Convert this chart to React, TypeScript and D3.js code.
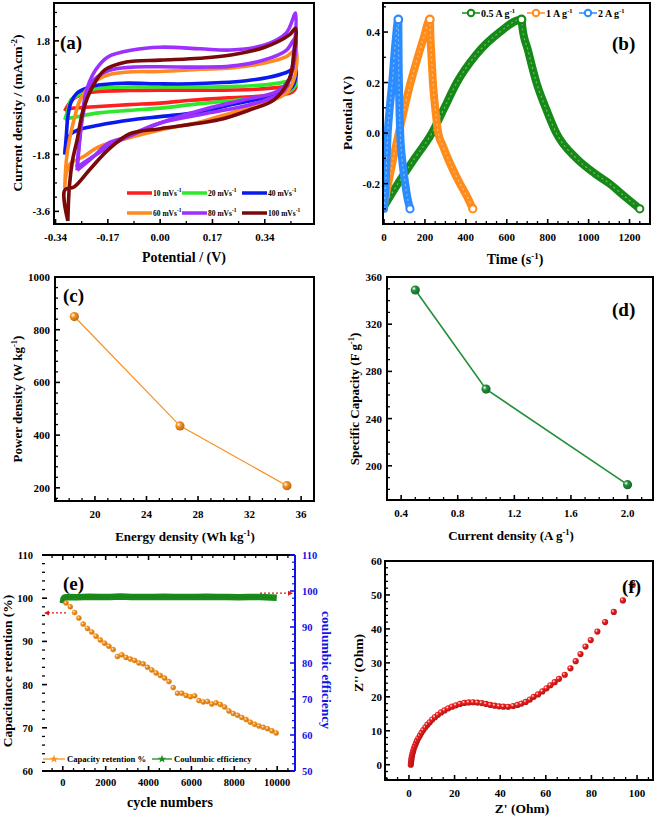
import React from 'react';
import * as d3 from 'd3';

const FONT = "'Liberation Serif','Times New Roman',Times,serif";

// ---------------- (a) Cyclic voltammetry ----------------
const cvRates = ['10', '20', '40', '60', '80', '100'];
const cvColors = ['#ff1f1f', '#2ee82e', '#0a1aee', '#ff8a1f', '#9b30ff', '#7a0a0a'];
const cv10E = [-0.31, -0.30, -0.28, -0.24, -0.2, -0.1, 0, 0.1, 0.2, 0.3, 0.38, 0.42, 0.44, 0.44, 0.43, 0.4, 0.33, 0.23, 0.1, 0, -0.1, -0.2, -0.27, -0.30, -0.31];
const cv10I = [-0.42, -0.25, -0.02, 0.14, 0.2, 0.23, 0.24, 0.24, 0.24, 0.26, 0.32, 0.37, 0.4, 0.3, 0.18, 0.1, 0.05, 0.0, -0.08, -0.17, -0.22, -0.28, -0.32, -0.36, -0.42];
const cv20E = [-0.31, -0.30, -0.29, -0.26, -0.22, -0.15, -0.05, 0.05, 0.15, 0.25, 0.33, 0.39, 0.43, 0.44, 0.44, 0.42, 0.39, 0.3, 0.2, 0.1, 0, -0.1, -0.2, -0.27, -0.30, -0.31];
const cv20I = [-0.7, -0.4, -0.07, 0.12, 0.27, 0.33, 0.34, 0.34, 0.34, 0.36, 0.4, 0.47, 0.58, 0.64, 0.4, 0.2, 0.1, -0.03, -0.12, -0.22, -0.33, -0.4, -0.48, -0.6, -0.66, -0.7];
const cv40E = [-0.31, -0.305, -0.30, -0.29, -0.27, -0.24, -0.2, -0.12, 0, 0.1, 0.2, 0.28, 0.35, 0.41, 0.44, 0.44, 0.43, 0.41, 0.34, 0.23, 0.13, 0, -0.09, -0.2, -0.26, -0.29, -0.305, -0.31];
const cv40I = [-1.8, -1.2, -0.6, -0.15, 0.15, 0.3, 0.4, 0.46, 0.44, 0.44, 0.48, 0.54, 0.64, 0.8, 0.94, 0.6, 0.35, 0.2, 0.0, -0.22, -0.45, -0.6, -0.7, -0.87, -1.0, -1.15, -1.4, -1.8];
const cv60E = [-0.31, -0.305, -0.295, -0.28, -0.26, -0.22, -0.17, -0.09, 0, 0.13, 0.23, 0.34, 0.41, 0.44, 0.437, 0.41, 0.34, 0.23, 0.13, 0, -0.09, -0.2, -0.25, -0.29, -0.305, -0.31];
const cv60I = [-2.86, -2.0, -1.34, -0.7, -0.07, 0.46, 0.72, 0.82, 0.83, 0.9, 0.94, 1.1, 1.3, 1.5, 0.66, 0.15, -0.17, -0.48, -0.77, -1.02, -1.24, -1.56, -1.87, -2.07, -2.4, -2.86];
const cv80bE = [-0.27, -0.25, -0.22, -0.17, -0.09, 0, 0.13, 0.23, 0.34, 0.41, 0.44, 0.43, 0.4, 0.3, 0.15, 0, -0.1, -0.2, -0.27];
const cv80bI = [-2.2, -0.5, 0.5, 0.85, 0.97, 0.98, 0.97, 1.0, 1.2, 1.5, 1.9, 0.9, 0.2, -0.2, -0.5, -0.8, -1.2, -1.75, -2.2];
const cv80E = [-0.27, -0.26, -0.245, -0.23, -0.21, -0.17, -0.09, 0, 0.13, 0.23, 0.34, 0.41, 0.44, 0.435, 0.42, 0.38, 0.27, 0.15, 0, -0.11, -0.17, -0.22, -0.27];
const cv80I = [-2.3, -1.2, 0.0, 0.5, 0.88, 1.29, 1.51, 1.6, 1.55, 1.51, 1.67, 2.05, 2.68, 1.5, 0.6, 0.2, -0.07, -0.35, -0.8, -1.25, -1.45, -1.9, -2.3];
const cv100E = [-0.30, -0.295, -0.285, -0.27, -0.25, -0.22, -0.18, -0.11, 0, 0.13, 0.23, 0.34, 0.42, 0.44, 0.435, 0.42, 0.37, 0.29, 0.19, 0, -0.1, -0.17, -0.23, -0.28, -0.31, -0.30];
const cv100I = [-3.9, -2.8, -2.0, -1.34, -0.39, 0.34, 0.88, 1.13, 1.19, 1.25, 1.35, 1.6, 1.99, 2.2, 1.4, 0.6, -0.07, -0.39, -0.7, -0.98, -1.15, -1.66, -2.29, -2.83, -2.92, -3.9];
const cvXTicks = [-0.34, -0.17, 0, 0.17, 0.34];
const cvXLabels = ['-0.34', '-0.17', '0.00', '0.17', '0.34'];
const cvYTicks = [-3.6, -1.8, 0, 1.8];
const cvYLabels = ['-3.6', '-1.8', '0.0', '1.8'];

// ---------------- (b) GCD ----------------
const gcdLabels = ['0.5 A g', '1 A g', '2 A g'];
const gcdColors = ['#168a16', '#ff8c1a', '#2b8cff'];
const gcd05T = [0, 68, 150, 234, 295, 356, 450, 566, 672, 676, 703, 745, 790, 842, 940, 1030, 1102, 1175, 1250];
const gcd05V = [-0.29, -0.2, -0.1, 0.0, 0.1, 0.2, 0.31, 0.4, 0.45, 0.42, 0.33, 0.2, 0.1, 0.0, -0.1, -0.16, -0.2, -0.25, -0.3];
const gcd1T = [0, 20, 45, 72, 100, 130, 165, 195, 224, 227, 232, 239, 250, 265, 287, 312, 340, 371, 405, 434];
const gcd1V = [-0.28, -0.2, -0.1, 0.0, 0.1, 0.2, 0.3, 0.38, 0.45, 0.38, 0.3, 0.2, 0.1, 0.0, -0.05, -0.1, -0.15, -0.2, -0.25, -0.3];
const gcd2T = [0, 8, 18, 28, 40, 55, 70, 71, 74, 79, 88, 100, 113, 127];
const gcd2V = [-0.3, -0.2, 0.0, 0.1, 0.2, 0.35, 0.45, 0.32, 0.15, 0.0, -0.1, -0.18, -0.25, -0.3];
const gcdXTicks = [0, 200, 400, 600, 800, 1000, 1200];
const gcdYTicks = [-0.2, 0, 0.2, 0.4];
const gcdYLabels = ['-0.2', '0.0', '0.2', '0.4'];

// ---------------- (c) Ragone ----------------
const energyDensity = [18.4, 26.6, 34.9];
const powerDensity = [850, 435, 208];
const ragXTicks = [20, 24, 28, 32, 36];
const ragYTicks = [200, 400, 600, 800, 1000];

// ---------------- (d) Specific capacity ----------------
const currentDensity = [0.5, 1.0, 2.0];
const specCapacity = [349, 265, 184];
const capXTicks = [0.4, 0.8, 1.2, 1.6, 2.0];
const capXLabels = ['0.4', '0.8', '1.2', '1.6', '2.0'];
const capYTicks = [200, 240, 280, 320, 360];

// ---------------- (e) Cycling ----------------
const retCycles = [150, 350, 550, 750, 950, 1150, 1350, 1550, 1750, 1950, 2150, 2350, 2550, 2750, 2950, 3150, 3350, 3550, 3750, 3950, 4150, 4350, 4550, 4750, 4950, 5150, 5350, 5550, 5750, 5950, 6150, 6350, 6550, 6750, 6950, 7150, 7350, 7550, 7750, 7950, 8150, 8350, 8550, 8750, 8950, 9150, 9350, 9550, 9750, 9950];
const retValues = [98.9, 98.0, 96.7, 95.4, 94.0, 93.0, 92.2, 91.2, 90.3, 89.6, 88.9, 88.1, 86.5, 86.9, 86.3, 85.9, 85.6, 85.0, 84.8, 84.0, 83.4, 82.7, 82.1, 81.5, 80.7, 79.3, 78.0, 78.0, 77.5, 77.2, 77.4, 76.3, 76.0, 76.1, 75.5, 75.8, 75.4, 74.8, 73.9, 73.3, 72.9, 72.4, 71.9, 71.3, 70.8, 70.4, 70.1, 69.8, 69.3, 68.8];
const ceCycles = [0, 30, 80, 300, 700, 1200, 1700, 2200, 2700, 3200, 3700, 4200, 4700, 5200, 5700, 6200, 6700, 7200, 7700, 8200, 8700, 9200, 9700, 9980];
const ceValues = [96.6, 97.8, 98.2, 98.35, 98.25, 98.4, 98.3, 98.35, 98.45, 98.3, 98.35, 98.3, 98.4, 98.3, 98.35, 98.3, 98.4, 98.3, 98.35, 98.25, 98.3, 98.3, 98.2, 98.1];
const cycXTicks = [0, 2000, 4000, 6000, 8000, 10000];
const cycYLTicks = [60, 70, 80, 90, 100, 110];
const cycYRTicks = [50, 60, 70, 80, 90, 100, 110];
const cycLegend = ['Capacity retention %', 'Coulumbic efficiency'];

// ---------------- (f) Nyquist ----------------
const zReal = [0.8, 0.9, 1.0, 1.1, 1.3, 1.5, 1.8, 2.1, 2.5, 3.0, 3.5, 4.1, 4.8, 5.5, 6.3, 7.2, 8.1, 9.1, 10.2, 11.4, 12.7, 14.1, 15.6, 17.2, 18.9, 20.6, 22.4, 24.3, 26.2, 28.1, 30.0, 31.9, 33.8, 35.7, 37.6, 39.5, 41.4, 43.5, 45.7, 47.6, 49.3, 51.2, 53.0, 54.7, 56.6, 58.5, 60.3, 62.0, 63.9, 65.8, 68.3, 70.8, 73.1, 75.2, 77.4, 79.7, 82.6, 86.0, 89.8, 93.8, 98.1];
const zImag = [0.0, 0.6, 1.2, 1.8, 2.5, 3.2, 3.9, 4.6, 5.4, 6.2, 7.0, 7.8, 8.6, 9.4, 10.2, 11.0, 11.8, 12.5, 13.3, 14.0, 14.7, 15.4, 16.0, 16.6, 17.1, 17.5, 17.9, 18.2, 18.35, 18.4, 18.3, 18.15, 17.9, 17.6, 17.4, 17.2, 17.1, 17.05, 17.3, 17.6, 18.0, 18.5, 19.2, 20.0, 20.7, 21.6, 22.5, 23.4, 24.3, 25.3, 26.5, 28.4, 30.5, 32.6, 34.8, 36.7, 39.2, 42.0, 45.0, 48.4, 52.9];
const nyqXTicks = [0, 20, 40, 60, 80, 100];
const nyqYTicks = [0, 10, 20, 30, 40, 50, 60];

type Lin = d3.ScaleLinear<number, number>;

function minors(scale: Lin, step: number, majors: number[]) {
  const [a, b] = scale.domain();
  const lo = Math.ceil(a / step - 1e-9), hi = Math.floor(b / step + 1e-9);
  const out: number[] = [];
  for (let k = lo; k <= hi; k++) {
    const v = k * step;
    if (!majors.some(m => Math.abs(m - v) < step * 1e-3)) out.push(v);
  }
  return out;
}

interface AxProps {
  x: Lin; y: Lin;
  xt: number[]; xl: string[]; xm: number; xlY: number;
  yt: number[]; yl: string[]; ym: number; ylX: number;
  top?: boolean; noRightFrame?: boolean; fs?: number;
}

function Axes(p: AxProps) {
  const [x0, x1] = p.x.range();
  const [yb, yt] = p.y.range();
  const fs = p.fs ?? 11;
  return (
    <g>
      {p.xt.map((v, i) => (
        <g key={'xt' + i}>
          <line x1={p.x(v)} x2={p.x(v)} y1={yb} y2={yb - 5} stroke="#000" strokeWidth={1.6} />
          {p.top && <line x1={p.x(v)} x2={p.x(v)} y1={yt} y2={yt + 5} stroke="#000" strokeWidth={1.6} />}
          <text x={p.x(v)} y={p.xlY} textAnchor="middle" fontFamily={FONT} fontWeight="bold" fontSize={fs}>{p.xl[i]}</text>
        </g>
      ))}
      {minors(p.x, p.xm, p.xt).map((v, i) => (
        <g key={'xm' + i}>
          <line x1={p.x(v)} x2={p.x(v)} y1={yb} y2={yb - 3} stroke="#000" strokeWidth={1.3} />
          {p.top && <line x1={p.x(v)} x2={p.x(v)} y1={yt} y2={yt + 3} stroke="#000" strokeWidth={1.3} />}
        </g>
      ))}
      {p.yt.map((v, i) => (
        <g key={'yt' + i}>
          <line x1={x0} x2={x0 + 5} y1={p.y(v)} y2={p.y(v)} stroke="#000" strokeWidth={1.6} />
          <text x={p.ylX} y={p.y(v) + 4} textAnchor="end" fontFamily={FONT} fontWeight="bold" fontSize={fs}>{p.yl[i]}</text>
        </g>
      ))}
      {minors(p.y, p.ym, p.yt).map((v, i) => (
        <line key={'ym' + i} x1={x0} x2={x0 + 3} y1={p.y(v)} y2={p.y(v)} stroke="#000" strokeWidth={1.3} />
      ))}
      <path d={`M${x0},${yt}H${x1}${p.noRightFrame ? 'M' + x1 + ',' + yb : 'V' + yb}H${x0}Z`} fill="none" stroke="#000" strokeWidth={2} />
    </g>
  );
}

function Grad({ id, color }: { id: string; color: string }) {
  const dark = d3.color(color)!.darker(0.9).formatHex();
  return (
    <radialGradient id={id} cx="0.35" cy="0.35" r="0.7">
      <stop offset="0" stopColor="#ffffff" />
      <stop offset="0.35" stopColor={color} />
      <stop offset="1" stopColor={dark} />
    </radialGradient>
  );
}

const bold = { fontFamily: FONT, fontWeight: 'bold' as const };

export default function App() {
  // ---- scales
  const ax = d3.scaleLinear().domain([-0.345, 0.5]).range([54, 314]);
  const ay = d3.scaleLinear().domain([-4, 3]).range([224, 3]);
  const bx = d3.scaleLinear().domain([-5, 1300]).range([383, 650]);
  const by = d3.scaleLinear().domain([-0.36, 0.515]).range([224, 3]);
  const cx = d3.scaleLinear().domain([16.9, 37]).range([55, 314]);
  const cy = d3.scaleLinear().domain([150, 1000]).range([501, 277]);
  const dx = d3.scaleLinear().domain([0.3, 2.18]).range([387, 653]);
  const dy = d3.scaleLinear().domain([171, 360]).range([500, 277]);
  const ex = d3.scaleLinear().domain([-970, 10830]).range([42, 295]);
  const eyL = d3.scaleLinear().domain([60, 110]).range([771, 555]);
  const eyR = d3.scaleLinear().domain([50, 110]).range([771, 555]);
  const fx = d3.scaleLinear().domain([-10.5, 107]).range([385, 653]);
  const fy = d3.scaleLinear().domain([-4.5, 60]).range([780, 561]);

  const zip = (a: number[], b: number[]) => a.map((v, i) => [v, b[i]] as [number, number]);

  // (a)
  const cvLine = d3.line<[number, number]>().x(d => ax(d[0])).y(d => ay(d[1])).curve(d3.curveCatmullRom.alpha(0.5));
  const cvLoops: { pts: [number, number][]; color: string }[] = [
    { pts: zip(cv10E, cv10I), color: cvColors[0] },
    { pts: zip(cv20E, cv20I), color: cvColors[1] },
    { pts: zip(cv40E, cv40I), color: cvColors[2] },
    { pts: zip(cv60E, cv60I), color: cvColors[3] },
    { pts: zip(cv80bE, cv80bI), color: cvColors[4] },
    { pts: zip(cv80E, cv80I), color: cvColors[4] },
    { pts: zip(cv100E, cv100I), color: cvColors[5] },
  ];

  // (b)
  const gcdLine = d3.line<[number, number]>().x(d => bx(d[0])).y(d => by(d[1])).curve(d3.curveMonotoneX);
  const gcdSeries = [zip(gcd05T, gcd05V), zip(gcd1T, gcd1V), zip(gcd2T, gcd2V)];

  // (c), (d)
  const ragPts = zip(energyDensity, powerDensity);
  const capPts = zip(currentDensity, specCapacity);
  const ragLine = d3.line<[number, number]>().x(d => cx(d[0])).y(d => cy(d[1]));
  const capLine = d3.line<[number, number]>().x(d => dx(d[0])).y(d => dy(d[1]));

  // (e)
  const retPts = zip(retCycles, retValues);
  const cePts = zip(ceCycles, ceValues);
  const ceLine = d3.line<[number, number]>().x(d => ex(d[0])).y(d => eyR(d[1]));
  const starPath = d3.symbol().type(d3.symbolStar).size(22)()!;

  // (f)
  const nyqPts = zip(zReal, zImag);

  const cvLegendPos = [
    [127, 193], [182, 193], [242, 193],
    [127, 213], [182, 213], [242, 213],
  ];
  const gcdLegendX = [462, 527, 579];

  return (
    <svg width={660} height={823} style={{ position: 'absolute', left: 0, top: 0, background: '#fff' }}>
      <defs>
        <Grad id="gOrange" color="#f7901e" />
        <Grad id="gGreen" color="#1f8f3a" />
        <Grad id="gRed" color="#ee1c1c" />
        <Grad id="gOr2" color="#f7941d" />
        <clipPath id="clipA"><rect x={54} y={3} width={260} height={221} /></clipPath>
        <clipPath id="clipB"><rect x={383} y={3} width={267} height={221} /></clipPath>
      </defs>
      <rect x={0} y={0} width={660} height={823} fill="#fff" />

      {/* ================= (a) ================= */}
      <g clipPath="url(#clipA)">
        {cvLoops.map((l, i) => (
          <path key={'cv' + i} d={cvLine(l.pts)!} fill="none" stroke={l.color} strokeWidth={3.6} strokeLinejoin="round" />
        ))}
      </g>
      <Axes x={ax} y={ay} xt={cvXTicks} xl={cvXLabels} xm={0.085} xlY={241}
        yt={cvYTicks} yl={cvYLabels} ym={0.45} ylX={50} />
      <text x={60} y={49} {...bold} fontSize={19}>(a)</text>
      {cvRates.map((r, i) => {
        const [lx, ly] = cvLegendPos[i];
        return (
          <g key={'cvl' + i}>
            <line x1={lx} x2={lx + 25} y1={ly} y2={ly} stroke={cvColors[i]} strokeWidth={3.5} />
            <text x={lx + 26} y={ly + 3} {...bold} fontSize={7.5}>
              {r} mVs<tspan dy={-4} fontSize={5.5}>-1</tspan>
            </text>
          </g>
        );
      })}
      <text transform="translate(22,113) rotate(-90)" textAnchor="middle" {...bold} fontSize={13.5}>
        Current density / (mAcm<tspan dy={-5} fontSize={9}>-2</tspan><tspan dy={5}>)</tspan>
      </text>
      <text x={184} y={262} textAnchor="middle" {...bold} fontSize={14}>Potential / (V)</text>

      {/* ================= (b) ================= */}
      <g clipPath="url(#clipB)">
        {gcdSeries.map((s, i) => (
          <g key={'gcd' + i}>
            <path d={gcdLine(s)!} fill="none" stroke={gcdColors[i]} strokeWidth={8} strokeLinecap="round" strokeLinejoin="round" />
            <path d={gcdLine(s)!} fill="none" stroke="#fff" strokeOpacity={0.4} strokeWidth={1.2} strokeDasharray="2 3" />
            {[s[s.length - 1]].map((p, k) => (
              <circle key={k} cx={bx(p[0])} cy={by(p[1])} r={3.6} fill="#fff" stroke={gcdColors[i]} strokeWidth={2} />
            ))}
            {[s.reduce((m, p) => (p[1] > m[1] ? p : m), s[0])].map((p, k) => (
              <circle key={'pk' + k} cx={bx(p[0])} cy={by(p[1])} r={3.8} fill="#fff" stroke={gcdColors[i]} strokeWidth={2.2} />
            ))}
          </g>
        ))}
      </g>
      <Axes x={bx} y={by} xt={gcdXTicks} xl={gcdXTicks.map(String)} xm={50} xlY={241}
        yt={gcdYTicks} yl={gcdYLabels} ym={0.1} ylX={380} />
      <text x={612} y={50} {...bold} fontSize={19}>(b)</text>
      {gcdLabels.map((g, i) => (
        <g key={'gl' + i}>
          <line x1={gcdLegendX[i]} x2={gcdLegendX[i] + 18} y1={13} y2={13} stroke={gcdColors[i]} strokeWidth={1.5} />
          <circle cx={gcdLegendX[i] + 9} cy={13} r={3.2} fill="#fff" stroke={gcdColors[i]} strokeWidth={2} />
          <text x={gcdLegendX[i] + 19} y={16.5} {...bold} fontSize={10}>
            {g}<tspan dy={-4} fontSize={6.5}>-1</tspan>
          </text>
        </g>
      ))}
      <text transform="translate(352,113) rotate(-90)" textAnchor="middle" {...bold} fontSize={13.5}>Potential (V)</text>
      <text x={515} y={264} textAnchor="middle" {...bold} fontSize={14}>
        Time (s<tspan dy={-5} fontSize={9}>-1</tspan><tspan dy={5}>)</tspan>
      </text>

      {/* ================= (c) ================= */}
      <path d={ragLine(ragPts)!} fill="none" stroke="#f7901e" strokeWidth={1.2} />
      {ragPts.map((p, i) => (
        <circle key={'rp' + i} cx={cx(p[0])} cy={cy(p[1])} r={4.6} fill="url(#gOrange)" />
      ))}
      <Axes x={cx} y={cy} xt={ragXTicks} xl={ragXTicks.map(String)} xm={1} xlY={518}
        yt={ragYTicks} yl={ragYTicks.map(String)} ym={40} ylX={50} />
      <text x={63} y={302} {...bold} fontSize={19}>(c)</text>
      <text transform="translate(22,399) rotate(-90)" textAnchor="middle" {...bold} fontSize={13}>
        Power density (W kg<tspan dy={-5} fontSize={8.5}>-1</tspan><tspan dy={5}>)</tspan>
      </text>
      <text x={185} y={541} textAnchor="middle" {...bold} fontSize={13}>
        Energy density (Wh kg<tspan dy={-5} fontSize={8.5}>-1</tspan><tspan dy={5}>)</tspan>
      </text>

      {/* ================= (d) ================= */}
      <path d={capLine(capPts)!} fill="none" stroke="#1f8f3a" strokeWidth={1.6} />
      {capPts.map((p, i) => (
        <circle key={'cp' + i} cx={dx(p[0])} cy={dy(p[1])} r={4.6} fill="url(#gGreen)" />
      ))}
      <Axes x={dx} y={dy} xt={capXTicks} xl={capXLabels} xm={0.1} xlY={517}
        yt={capYTicks} yl={capYTicks.map(String)} ym={10} ylX={382} />
      <text x={612} y={316} {...bold} fontSize={19}>(d)</text>
      <text transform="translate(359,399) rotate(-90)" textAnchor="middle" {...bold} fontSize={13}>
        Specific Capacity (F g<tspan dy={-5} fontSize={8.5}>-1</tspan><tspan dy={5}>)</tspan>
      </text>
      <text x={511} y={540} textAnchor="middle" {...bold} fontSize={13}>
        Current density (A g<tspan dy={-5} fontSize={8.5}>-1</tspan><tspan dy={5}>)</tspan>
      </text>

      {/* ================= (e) ================= */}
      <path d={ceLine(cePts)!} fill="none" stroke="#1a8a1a" strokeWidth={6.5} strokeLinejoin="round" />
      <path d={ceLine(cePts)!} fill="none" stroke="#0d6d0d" strokeWidth={1} strokeDasharray="1 2" strokeOpacity={0.7} />
      {retPts.map((p, i) => (
        <circle key={'rt' + i} cx={ex(p[0])} cy={eyL(p[1])} r={2.5} fill="url(#gOr2)" stroke="#f08a16" strokeWidth={0.6} />
      ))}
      <Axes x={ex} y={eyL} xt={cycXTicks} xl={cycXTicks.map(String)} xm={500} xlY={786}
        yt={cycYLTicks} yl={cycYLTicks.map(String)} ym={2} ylX={33} top noRightFrame fs={10.5} />
      {/* right axis */}
      <line x1={295} x2={295} y1={555} y2={771} stroke="#1212e6" strokeWidth={2} />
      {cycYRTicks.map((v, i) => (
        <g key={'yr' + i}>
          <line x1={295} x2={290} y1={eyR(v)} y2={eyR(v)} stroke="#1212e6" strokeWidth={1.6} />
          <text x={302} y={eyR(v) + 4} {...bold} fontSize={10.5} fill="#1212e6">{v}</text>
        </g>
      ))}
      {minors(eyR, 2, cycYRTicks).map((v, i) => (
        <line key={'yrm' + i} x1={295} x2={292} y1={eyR(v)} y2={eyR(v)} stroke="#1212e6" strokeWidth={1.2} />
      ))}
      {/* arrows */}
      <line x1={66} x2={46} y1={eyL(96.6)} y2={eyL(96.6)} stroke="#e01818" strokeWidth={1.4} strokeDasharray="2 2" />
      <path d={`M${44},${eyL(96.6)}l5,-2.5v5z`} fill="#e01818" />
      <line x1={260} x2={290} y1={eyR(99.4)} y2={eyR(99.4)} stroke="#e01818" strokeWidth={1.4} strokeDasharray="2 2" />
      <path d={`M${293},${eyR(99.4)}l-5,-2.5v5z`} fill="#e01818" />
      <text x={63} y={590} {...bold} fontSize={19}>(e)</text>
      {/* legend */}
      <line x1={43} x2={65} y1={759} y2={759} stroke="#f7941d" strokeWidth={1.3} />
      <path d={starPath} transform="translate(54,759)" fill="#f7941d" />
      <text x={67} y={762} {...bold} fontSize={8.6}>{cycLegend[0]}</text>
      <line x1={152} x2={172} y1={759} y2={759} stroke="#1a8a1a" strokeWidth={1.3} />
      <path d={starPath} transform="translate(162,759)" fill="#1a8a1a" />
      <text x={174} y={762} {...bold} fontSize={8.6}>{cycLegend[1]}</text>
      <text transform="translate(12,671) rotate(-90)" textAnchor="middle" {...bold} fontSize={13.5}>Capacitance retention (%)</text>
      <text transform="translate(322,670) rotate(90)" textAnchor="middle" {...bold} fontSize={13.5} fill="#1212e6">coulumbic efficiency</text>
      <text x={170} y={807} textAnchor="middle" {...bold} fontSize={14}>cycle numbers</text>

      {/* ================= (f) ================= */}
      {nyqPts.map((p, i) => (
        <circle key={'nq' + i} cx={fx(p[0])} cy={fy(p[1])} r={3.1} fill="url(#gRed)" />
      ))}
      <Axes x={fx} y={fy} xt={nyqXTicks} xl={nyqXTicks.map(String)} xm={5} xlY={797}
        yt={nyqYTicks} yl={nyqYTicks.map(String)} ym={2} ylX={382} />
      <text x={622} y={593} {...bold} fontSize={19}>(f)</text>
      <text transform="translate(363,663) rotate(-90)" textAnchor="middle" {...bold} fontSize={13.5}>Z'' (Ohm)</text>
      <text x={522} y={813} textAnchor="middle" {...bold} fontSize={13.5}>Z' (Ohm)</text>
    </svg>
  );
}
